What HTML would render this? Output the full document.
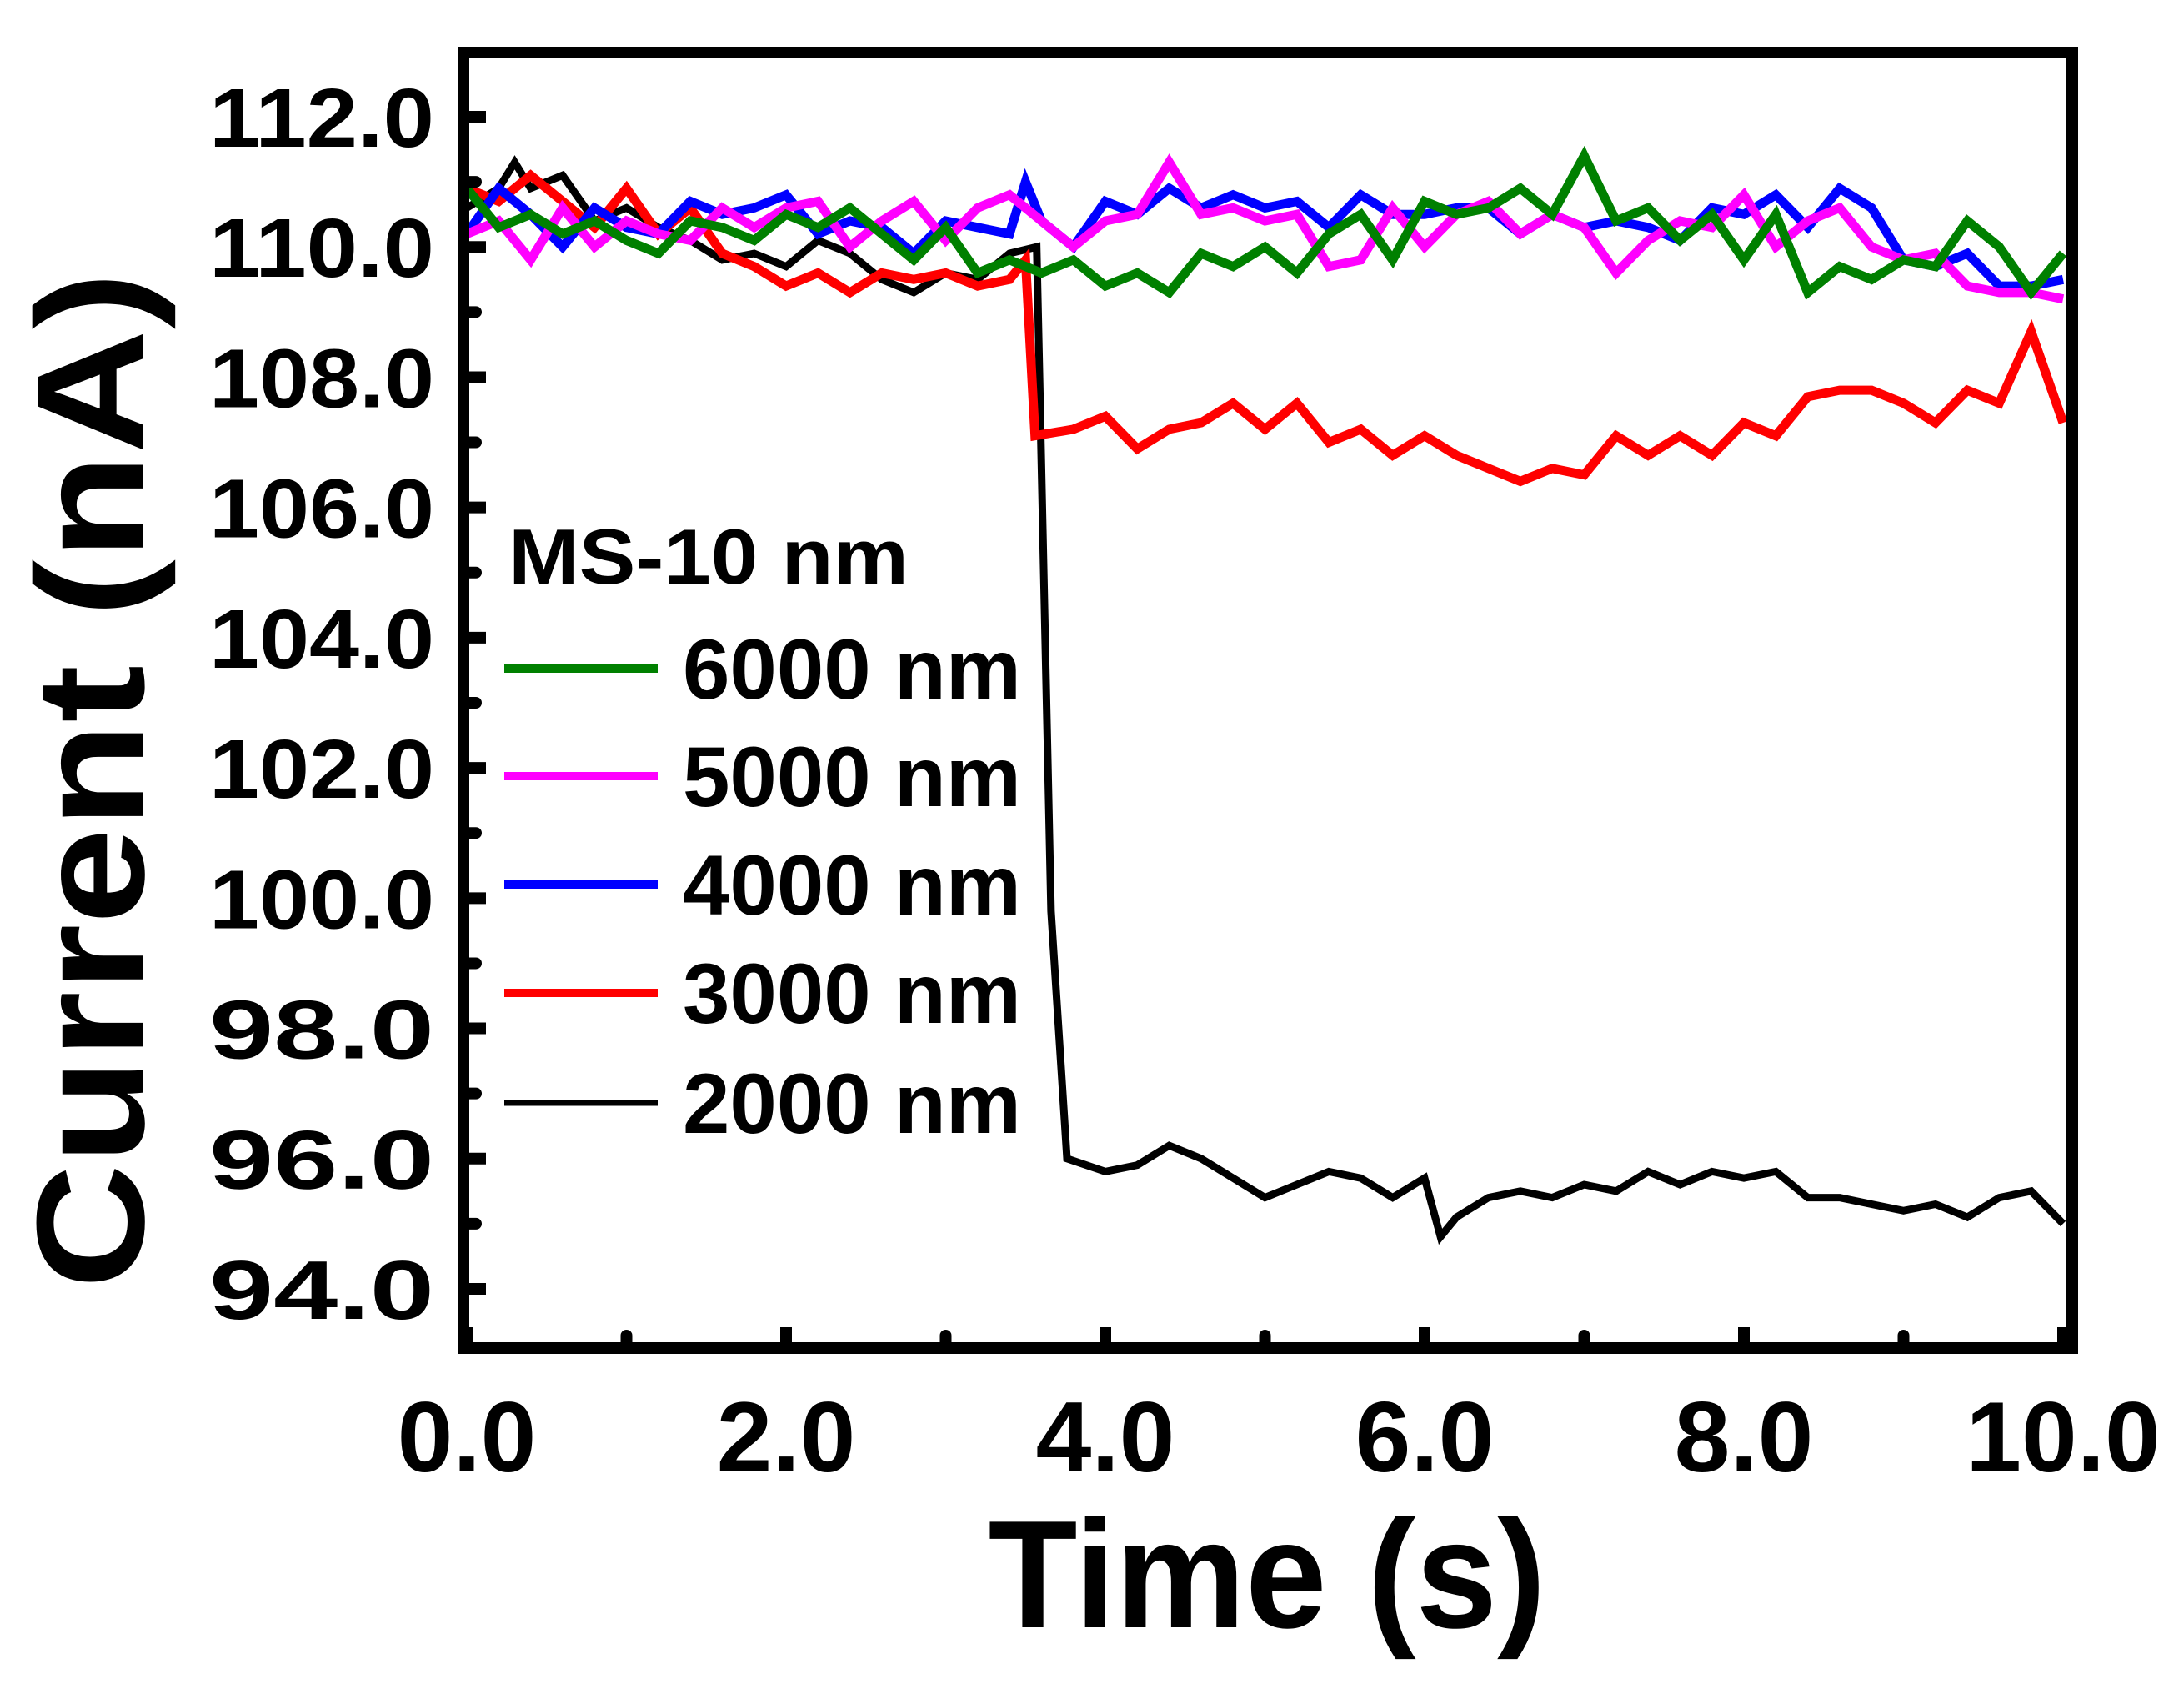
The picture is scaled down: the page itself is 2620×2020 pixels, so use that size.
<!DOCTYPE html>
<html><head><meta charset="utf-8"><style>
html,body{margin:0;padding:0;background:#fff;}
svg{display:block;font-family:"Liberation Sans",Arial,sans-serif;font-weight:bold;}
</style></head><body>
<svg id="chart" width="2620" height="2020" viewBox="0 0 2620 2020" xmlns="http://www.w3.org/2000/svg">
<g id="series"></g>
<g id="axes"></g>
<rect x="556" y="63" width="1930" height="1554" fill="none" stroke="#000" stroke-width="14"/>
<text transform="translate(172,936) rotate(-90)" text-anchor="middle" font-size="184" textLength="1220" lengthAdjust="spacingAndGlyphs">Current (nA)</text>
<text x="1520" y="1952" text-anchor="middle" font-size="184" textLength="669" lengthAdjust="spacingAndGlyphs">Time (s)</text>
<g id="legend">
<text x="610" y="700" font-size="94" textLength="480" lengthAdjust="spacingAndGlyphs">MS-10 nm</text>
</g>
</svg>
<script>
const xTicks = [0,2,4,6,8,10];
const yTicks = [94,96,98,100,102,104,106,108,110,112];
const seriesNames = ['6000 nm','5000 nm','4000 nm','3000 nm','2000 nm'];
const seriesColors = ['#008000','#ff00ff','#0000ff','#ff0000','#000000'];
const std = [0,0.2,0.4,0.6,0.8,1,1.2,1.4,1.6,1.8,2,2.2,2.4,2.6,2.8,3,3.2,3.4,3.6,3.8,4,4.2,4.4,4.6,4.8,5,5.2,5.4,5.6,5.8,6,6.2,6.4,6.6,6.8,7,7.2,7.4,7.6,7.8,8,8.2,8.4,8.6,8.8,9,9.2,9.4,9.6,9.8,10];
const greenX = std;
const greenY = [110.9,110.3,110.5,110.2,110.4,110.1,109.9,110.4,110.3,110.1,110.5,110.3,110.6,110.2,109.8,110.3,109.6,109.8,109.6,109.8,109.4,109.6,109.3,109.9,109.7,110.0,109.6,110.2,110.5,109.8,110.7,110.5,110.6,110.9,110.5,111.4,110.4,110.6,110.1,110.5,109.8,110.5,109.3,109.7,109.5,109.8,109.7,110.4,110.0,109.3,109.9];
const magentaX = std;
const magentaY = [110.2,110.4,109.8,110.6,110.0,110.4,110.2,110.1,110.6,110.3,110.6,110.7,110.0,110.4,110.7,110.1,110.6,110.8,110.4,110.0,110.4,110.5,111.3,110.5,110.6,110.4,110.5,109.7,109.8,110.6,110.0,110.5,110.7,110.2,110.5,110.3,109.6,110.1,110.4,110.3,110.8,110.0,110.4,110.6,110.0,109.8,109.9,109.4,109.3,109.3,109.2];
const blueX = [0,0.2,0.4,0.6,0.8,1,1.2,1.4,1.6,1.8,2,2.2,2.4,2.6,2.8,3,3.2,3.4,3.5,3.6,3.8,4,4.2,4.4,4.6,4.8,5,5.2,5.4,5.6,5.8,6,6.2,6.4,6.6,6.8,7,7.2,7.4,7.6,7.8,8,8.2,8.4,8.6,8.8,9,9.2,9.4,9.6,9.8,10];
const blueY = [110.2,110.9,110.5,110.0,110.6,110.3,110.2,110.7,110.5,110.6,110.8,110.2,110.4,110.3,109.9,110.4,110.3,110.2,111.0,110.4,110.0,110.7,110.5,110.9,110.6,110.8,110.6,110.7,110.3,110.8,110.5,110.5,110.6,110.6,110.2,110.5,110.3,110.4,110.3,110.1,110.6,110.5,110.8,110.3,110.9,110.6,109.8,109.7,109.9,109.4,109.4,109.5];
const redX = [0,0.2,0.4,0.6,0.8,1,1.2,1.4,1.6,1.8,2,2.2,2.4,2.6,2.8,3,3.2,3.4,3.5,3.56,3.8,4,4.2,4.4,4.6,4.8,5,5.2,5.4,5.6,5.8,6,6.2,6.4,6.6,6.8,7,7.2,7.4,7.6,7.8,8,8.2,8.4,8.6,8.8,9,9.2,9.4,9.6,9.8,10];
const redY = [110.9,110.7,111.1,110.7,110.3,110.9,110.2,110.6,109.9,109.7,109.4,109.6,109.3,109.6,109.5,109.6,109.4,109.5,109.8,107.1,107.2,107.4,106.9,107.2,107.3,107.6,107.2,107.6,107.0,107.2,106.8,107.1,106.8,106.6,106.4,106.6,106.5,107.1,106.8,107.1,106.8,107.3,107.1,107.7,107.8,107.8,107.6,107.3,107.8,107.6,108.7,107.3];
const blackX = [0,0.2,0.3,0.4,0.6,0.8,1,1.2,1.4,1.6,1.8,2,2.2,2.4,2.6,2.8,3,3.2,3.4,3.57,3.66,3.76,4,4.2,4.4,4.6,4.8,5,5.2,5.4,5.6,5.8,6,6.1,6.2,6.4,6.6,6.8,7,7.2,7.4,7.6,7.8,8,8.2,8.4,8.6,8.8,9,9.2,9.4,9.6,9.8,10];
const blackY = [110.6,110.9,111.3,110.9,111.1,110.4,110.6,110.3,110.1,109.8,109.9,109.7,110.1,109.9,109.5,109.3,109.6,109.5,109.9,110.0,99.8,96.0,95.8,95.9,96.2,96.0,95.7,95.4,95.6,95.8,95.7,95.4,95.7,94.8,95.1,95.4,95.5,95.4,95.6,95.5,95.8,95.6,95.8,95.7,95.8,95.4,95.4,95.3,95.2,95.3,95.1,95.4,95.5,95.0];

const NS='http://www.w3.org/2000/svg';
const X0=560, X1=2475, Y0=1546, Y1=140;
function xs(v){return X0+(v-0)/(10-0)*(X1-X0);}
function ys(v){return Y0-(v-94)/(112-94)*(Y0-Y1);}
function mk(tag,attrs,parent){const e=document.createElementNS(NS,tag);for(const k in attrs)e.setAttribute(k,attrs[k]);parent.appendChild(e);return e;}

const axes=document.getElementById('axes');
xTicks.forEach(v=>{
  const t=mk('text',{x:xs(v),y:1765,'text-anchor':'middle','font-size':120},axes);
  
  
  t.textContent=v.toFixed(1);
  const l=mk('line',{x1:xs(v),x2:xs(v),y1:1617,y2:1592,stroke:'#000','stroke-width':14},axes);
  
  
});
[1,3,5,7,9].forEach(v=>{
  const l=mk('line',{x1:xs(v),x2:xs(v),y1:1617,y2:1602,stroke:'#000','stroke-width':14,'stroke-linecap':'round'},axes);
  
  
});
yTicks.forEach(v=>{
  const t=mk('text',{x:521,y:ys(v)+36,'text-anchor':'end','font-size':100,textLength:270,lengthAdjust:'spacingAndGlyphs'},axes);
  
  
  t.textContent=v.toFixed(1);
  const l=mk('line',{x1:556,x2:583,y1:ys(v),y2:ys(v),stroke:'#000','stroke-width':14},axes);
  
  
});
for(let v=95;v<=111;v+=2){
  const l=mk('line',{x1:556,x2:571,y1:ys(v),y2:ys(v),stroke:'#000','stroke-width':14,'stroke-linecap':'round'},axes);
  
  
}

const sg=document.getElementById('series');
const data=[[greenX,greenY],[magentaX,magentaY],[blueX,blueY],[redX,redY],[blackX,blackY]];
const order=[4,3,2,1,0];
order.forEach(i=>{
  const [X,Y]=data[i];
  const pts=X.map((x,j)=>xs(x).toFixed(1)+','+ys(Y[j]).toFixed(1)).join(' ');
  const p=mk('polyline',{points:pts,fill:'none',stroke:seriesColors[i],'stroke-width':i===4?9:11,'stroke-linejoin':'miter'},sg);
  
  
});

const lg=document.getElementById('legend');
const legY=[802,931,1061,1191,1323];
seriesNames.forEach((n,i)=>{
  const l=mk('line',{x1:605,x2:789,y1:legY[i],y2:legY[i],stroke:seriesColors[i],'stroke-width':i===4?7:10},lg);
  
  
  const t=mk('text',{x:819,y:legY[i]+36,'font-size':102,textLength:406,lengthAdjust:'spacingAndGlyphs'},lg);
  
  
  t.textContent=n;
});
</script>
</body></html>
